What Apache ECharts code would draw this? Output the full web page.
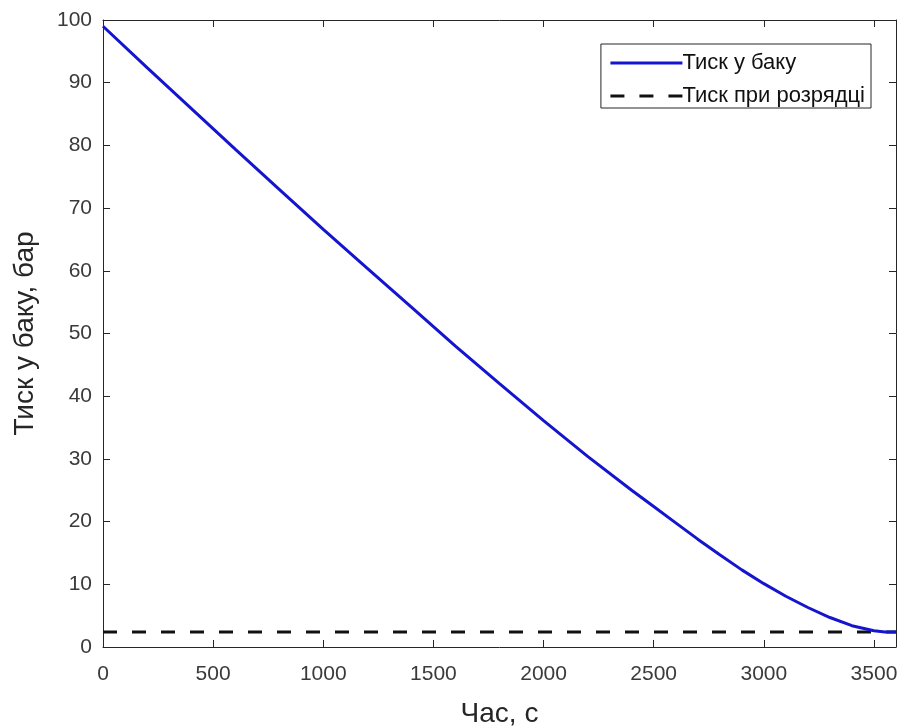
<!DOCTYPE html>
<html>
<head>
<meta charset="utf-8">
<script src="https://cdn.jsdelivr.net/npm/echarts@6/dist/echarts.min.js"></script>
<style>html,body{margin:0;padding:0;background:#fff}#c{width:903px;height:727px}</style>
</head>
<body>
<div id="c"></div>
<script>
const timeS = [0, 200, 400, 600, 800, 1000, 1200, 1400, 1600, 1800, 2000, 2200, 2400, 2500, 2600, 2700, 2800, 2900, 3000, 3100, 3200, 3300, 3400, 3500, 3550, 3600];
const tankPressure = [99.0, 92.4, 85.9, 79.4, 73.0, 66.6, 60.4, 54.2, 48.0, 42.0, 36.1, 30.4, 25.0, 22.4, 19.8, 17.2, 14.7, 12.3, 10.1, 8.1, 6.3, 4.7, 3.4, 2.6, 2.4, 2.4];
const dischargeT = [0, 3600];
const dischargeP = [2.4, 2.4];
const seriesNames = ['Тиск у баку', 'Тиск при розрядці'];
const xTitle = 'Час, с';
const yTitle = 'Тиск у баку, бар';

const font = 'Liberation Sans, Arial, sans-serif';
const axisCol = '#262626';
const labelCol = '#3a3a3a';
function axLine() { return {show: true, onZero: false, lineStyle: {color: axisCol, width: 1}}; }
function axTick() { return {show: true, inside: true, length: 7, lineStyle: {color: axisCol, width: 1}}; }
const chart = echarts.init(document.getElementById('c'), null, {renderer: 'canvas'});
chart.setOption({
  animation: false,
  backgroundColor: '#fff',
  grid: {left: 103, top: 20, right: 7, bottom: 80, containLabel: false, outerBoundsMode: 'none'},
  legend: {
    orient: 'vertical', right: 32, top: 44,
    data: seriesNames,
    itemWidth: 72, itemHeight: 22, itemGap: 11,
    backgroundColor: '#fff', borderColor: axisCol, borderWidth: 1, borderRadius: 0,
    padding: [8, 6, 1, 8],
    itemStyle: {opacity: 0},
    lineStyle: {width: 3},
    textStyle: {fontFamily: font, fontSize: 22, color: '#111', padding: [0, 0, 0, -5]}
  },
  xAxis: [
    {type: 'value', gridIndex: 0, min: 0, max: 3600, interval: 500, position: 'bottom',
      name: xTitle, nameLocation: 'middle', nameGap: 53,
      nameTextStyle: {fontFamily: font, fontSize: 28, color: axisCol},
      axisLine: axLine(), axisTick: axTick(), splitLine: {show: false},
      axisLabel: {fontFamily: font, fontSize: 21, color: labelCol, margin: 17, showMaxLabel: false,
        formatter: v => String(v)}},
    {type: 'value', gridIndex: 0, min: 0, max: 3600, interval: 500, position: 'top',
      axisLine: axLine(), axisTick: axTick(), splitLine: {show: false},
      axisLabel: {show: false}}
  ],
  yAxis: [
    {type: 'value', gridIndex: 0, min: 0, max: 100, interval: 10, position: 'left',
      name: yTitle, nameLocation: 'middle', nameGap: 64, nameRotate: 90,
      nameTextStyle: {fontFamily: font, fontSize: 28, color: axisCol},
      axisLine: axLine(), axisTick: axTick(), splitLine: {show: false},
      axisLabel: {fontFamily: font, fontSize: 21, color: labelCol, margin: 11,
        formatter: v => String(v)}},
    {type: 'value', gridIndex: 0, min: 0, max: 100, interval: 10, position: 'right',
      axisLine: axLine(), axisTick: axTick(), splitLine: {show: false},
      axisLabel: {show: false}}
  ],
  series: [
    {
      name: seriesNames[0], type: 'line', xAxisIndex: 0, yAxisIndex: 0,
      data: timeS.map((t, i) => [t, tankPressure[i]]),
      showSymbol: false, symbol: 'none', smooth: false,
      lineStyle: {color: '#1515d0', width: 3},
      itemStyle: {color: '#1515d0'},
      z: 3
    },
    {
      name: seriesNames[1], type: 'line', xAxisIndex: 0, yAxisIndex: 0,
      data: dischargeT.map((t, i) => [t, dischargeP[i]]),
      showSymbol: false, symbol: 'none',
      lineStyle: {color: '#111', width: 3, type: [14, 15]},
      itemStyle: {color: '#111'},
      z: 2
    },
    {
      name: 'mirror', type: 'line', xAxisIndex: 1, yAxisIndex: 1,
      data: [], showSymbol: false, symbol: 'none', silent: true
    }
  ]
});
</script>
</body>
</html>
